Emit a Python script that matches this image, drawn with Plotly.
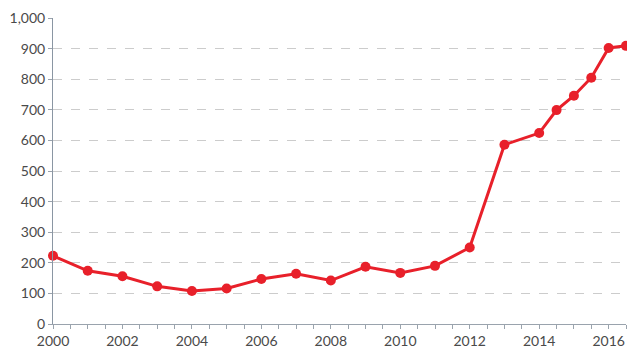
import plotly.graph_objects as go

years = [2000, 2001, 2002, 2003, 2004, 2005, 2006, 2007, 2008, 2009, 2010,
         2011, 2012, 2013, 2014, 2014.5, 2015, 2015.5, 2016, 2016.5]
values = [223, 174, 156, 123, 108, 116, 147, 164, 142, 187, 167,
          190, 250, 586, 624, 699, 746, 805, 902, 909]

x_tickvals = [2000, 2002, 2004, 2006, 2008, 2010, 2012, 2014, 2016]
y_tickvals = [0, 100, 200, 300, 400, 500, 600, 700, 800, 900, 1000]
y_ticktext = ["0", "100", "200", "300", "400", "500", "600", "700", "800", "900", "1,000"]

fig = go.Figure()
fig.add_trace(go.Scatter(
    x=years, y=values, mode="lines+markers",
    line=dict(color="#e8202a", width=3),
    marker=dict(color="#e8202a", size=10),
    cliponaxis=False,
    hoverinfo="x+y",
))

axis_font = dict(family="Lato, 'Open Sans', sans-serif", size=14, color="#4a4a4a")

fig.update_layout(
    width=627, height=349,
    margin=dict(l=45, r=9, t=10, b=33),
    paper_bgcolor="white", plot_bgcolor="white",
    showlegend=False,
    xaxis=dict(
        range=[2000, 2016.5],
        automargin=False,
        tickvals=x_tickvals,
        ticktext=[str(v) for v in x_tickvals],
        ticks="outside", ticklen=4, tickcolor="#9aa3ad", tickwidth=1,
        minor=dict(dtick=0.5, tick0=2000, ticks="outside", ticklen=4,
                   tickcolor="#9aa3ad", showgrid=False),
        showline=True, linecolor="#9aa3ad", linewidth=1,
        showgrid=False, zeroline=False,
        tickfont=axis_font,
    ),
    yaxis=dict(
        range=[0, 1000],
        automargin=False,
        tickvals=y_tickvals,
        ticktext=y_ticktext,
        ticks="outside", ticklen=4, tickcolor="#9aa3ad", tickwidth=1,
        showline=True, linecolor="#8a96a3", linewidth=1,
        showgrid=True, gridcolor="#cccccc", griddash="dash", gridwidth=1,
        zeroline=False,
        tickfont=axis_font,
    ),
)

fig.write_html("out.html")
